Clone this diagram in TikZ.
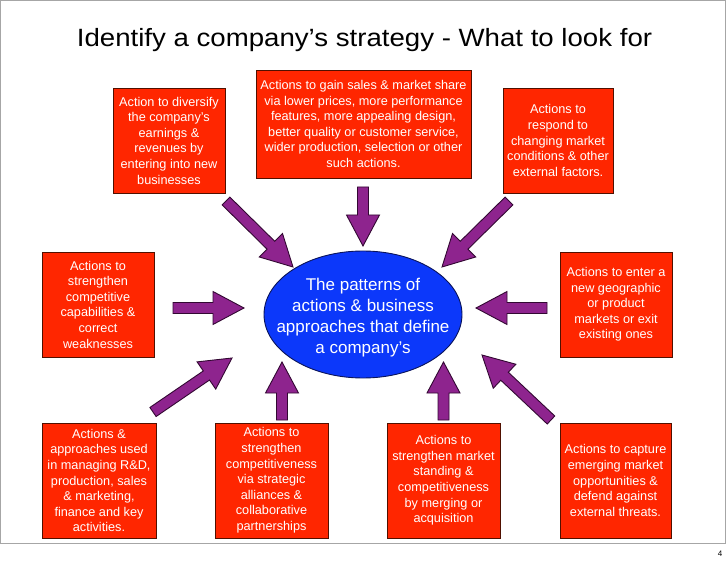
\documentclass[tikz,border=0pt]{standalone}
\usepackage{fontspec}
\usepackage{graphicx}
\setmainfont{Liberation Sans}
\usetikzlibrary{calc,shapes.geometric}
\definecolor{boxred}{RGB}{255,38,0}
\definecolor{boxedge}{RGB}{80,16,0}
\definecolor{arrpurple}{RGB}{142,36,142}
\definecolor{arredge}{RGB}{50,8,50}
\definecolor{coreblue}{RGB}{12,56,250}
\definecolor{coreedge}{RGB}{10,20,90}
\newcommand{\barrowdraw}[2]{%
  \coordinate (bah) at ($(#2)!31pt!(#1)$);
  \draw[barrow] ($(#1)!5.5pt!90:(#2)$) -- ($(bah)!5.5pt!90:(#2)$) -- ($(bah)!16.5pt!90:(#2)$) -- (#2) -- ($(bah)!16.5pt!-90:(#2)$) -- ($(bah)!5.5pt!-90:(#2)$) -- ($(#1)!5.5pt!-90:(#2)$) -- cycle;
}
\tikzset{
  redbox/.style={draw=boxedge, line width=0.9pt, fill=boxred, text=white, align=center,
    inner sep=0pt, font=\fontsize{12.7}{15.6}\selectfont},
  barrow/.style={draw=arredge, line width=0.9pt, fill=arrpurple, line join=miter},
}
\begin{document}
\begin{tikzpicture}[x=1pt,y=-1pt]
\useasboundingbox (0,0) rectangle (728,561);
\draw[gray!70, line width=0.8pt] (0.5,0.5) rectangle (725.5,543);
\node[anchor=base, font=\fontsize{25}{30}\selectfont] (title) at (364.5,46.7) {\scalebox{1.105}[1]{Identify a company’s strategy - What to look for}};
\node[font=\fontsize{8}{9}\selectfont, anchor=base] (pageno) at (720,556) {4};

\node[redbox, minimum width=112pt, minimum height=105pt] (tl) at (169,140.5)
  {Action to diversify\\the company’s\\earnings \&\\revenues by\\entering into new\\businesses};
\node[redbox, minimum width=215pt, minimum height=108pt] (tc) at (363.5,124)
  {Actions to gain sales \& market share\\via lower prices, more performance\\features, more appealing design,\\better quality or customer service,\\wider production, selection or other\\such actions.};
\node[redbox, minimum width=110pt, minimum height=105pt] (tr) at (558,140.5)
  {Actions to\\respond to\\changing market\\conditions \& other\\external factors.};
\node[redbox, minimum width=112pt, minimum height=105pt] (ml) at (98,304.5)
  {Actions to\\strengthen\\competitive\\capabilities \&\\correct\\weaknesses};
\node[redbox, minimum width=112pt, minimum height=105pt] (mr) at (616,304.5)
  {Actions to enter a\\new geographic\\or product\\markets or exit\\existing ones};
\node[redbox, minimum width=114pt, minimum height=115pt] (bl) at (99,480.5)
  {Actions \&\\approaches used\\in managing R\&D,\\production, sales\\\& marketing,\\finance and key\\activities.};
\node[redbox, minimum width=113pt, minimum height=115pt] (b2) at (271.5,480.5)
  {Actions to\\strengthen\\competitiveness\\via strategic\\alliances \&\\collaborative\\partnerships};
\node[redbox, minimum width=113pt, minimum height=115pt] (b3) at (443.5,480.5)
  {Actions to\\strengthen market\\standing \&\\competitiveness\\by merging or\\acquisition};
\node[redbox, minimum width=111pt, minimum height=115pt] (br) at (615.5,480.5)
  {Actions to capture\\emerging market\\opportunities \&\\defend against\\external threats.};

\node[ellipse, draw=coreedge, line width=0.9pt, fill=coreblue, minimum width=198pt, minimum height=127pt, inner sep=0pt] (core) at (363,314.5) {};
\node[text=white, align=center, font=\fontsize{17}{21}\selectfont] (coretext) at (363,318) {The patterns of\\actions \& business\\approaches that define\\a company’s};

\coordinate (tcT) at (363,187);  \coordinate (tcH) at (363,246);
\coordinate (tlT) at (226,201);  \coordinate (tlH) at (293,267);
\coordinate (trT) at (509,201);  \coordinate (trH) at (442,267);
\coordinate (mlT) at (173,308);  \coordinate (mlH) at (244,308);
\coordinate (mrT) at (547,308);  \coordinate (mrH) at (476,308);
\coordinate (blT) at (153,412);  \coordinate (blH) at (232,358);
\coordinate (b2T) at (282,420);  \coordinate (b2H) at (282,362);
\coordinate (b3T) at (443.5,420);  \coordinate (b3H) at (443.5,362);
\coordinate (brT) at (551,420);  \coordinate (brH) at (482,355);

\barrowdraw{tcT}{tcH}
\barrowdraw{tlT}{tlH}
\barrowdraw{trT}{trH}
\barrowdraw{mlT}{mlH}
\barrowdraw{mrT}{mrH}
\barrowdraw{blT}{blH}
\barrowdraw{b2T}{b2H}
\barrowdraw{b3T}{b3H}
\barrowdraw{brT}{brH}
\end{tikzpicture}
\end{document}
